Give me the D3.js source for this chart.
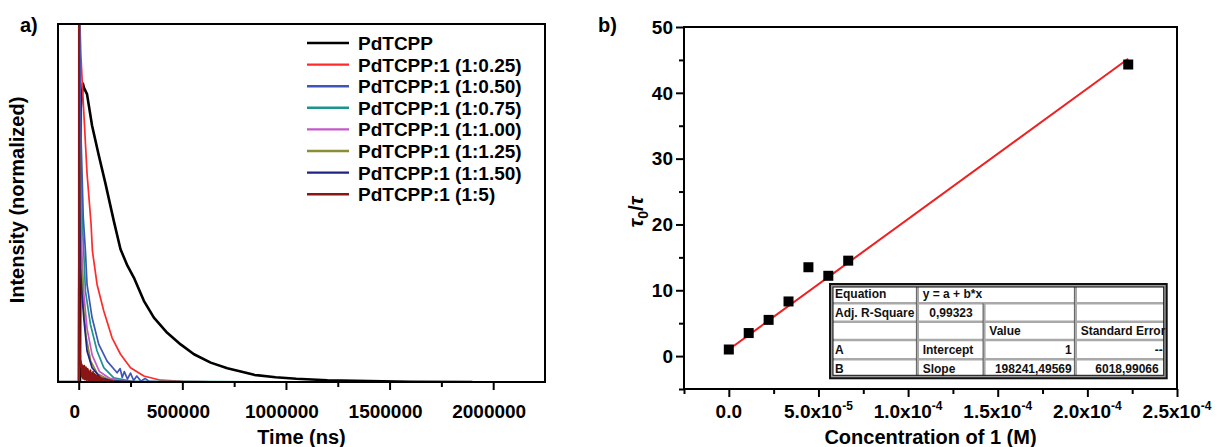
<!DOCTYPE html>
<html>
<head>
<meta charset="utf-8">
<script src="https://cdn.jsdelivr.net/npm/d3@7"></script>
<style>
body { margin: 0; background: #fff; }
svg { display: block; font-family: "Liberation Sans", Arial, sans-serif; }
</style>
</head>
<body>
<div id="chart"></div>
<script>
// ---- panel a data: decay curves, [time ns, intensity] ----
const seriesNames = ["PdTCPP", "PdTCPP:1 (1:0.25)", "PdTCPP:1 (1:0.50)", "PdTCPP:1 (1:0.75)",
    "PdTCPP:1 (1:1.00)", "PdTCPP:1 (1:1.25)", "PdTCPP:1 (1:1.50)", "PdTCPP:1 (1:5)"];
const seriesColors = ["#000000", "#ff2a2a", "#3d56b8", "#1b9490", "#c558c8", "#8c8c32", "#1e2384", "#8a1515"];

const pdtcpp = [[-100000,0],[0,0],[6000,0],[10000,0.92],[20000,1.0],[26000,0.985],[40000,0.965],[64300,0.86],
    [96700,0.76],[129100,0.665],[169200,0.54],[201600,0.445],[235000,0.39],[266000,0.35],[314300,0.272],
    [362700,0.216],[427000,0.165],[491800,0.126],[556100,0.093],[636800,0.065],[717100,0.046],[781900,0.035],
    [846200,0.024],[950000,0.016],[1050000,0.011],[1200000,0.006],[1400000,0.003],[1600000,0.001],[1900000,0]];
const r025 = [[-20000,0],[0,0],[2000,1.3],[10000,1.1],[21000,0.95],[40000,0.7],[59500,0.53],[66000,0.44],
    [88500,0.327],[120900,0.238],[161000,0.148],[201600,0.093],[250000,0.048],[314300,0.02],[395000,0.006],
    [500000,0.002],[700000,0],[1900000,0]];
const r050 = [[-20000,0],[0,0],[2000,1.3],[12000,0.8],[22000,0.55],[32400,0.439],[40100,0.327],[64300,0.216],
    [96700,0.126],[136900,0.07],[185200,0.031],[200000,0.045],[210000,0.015],[220000,0.035],[235000,0.01],
    [250000,0.03],[265000,0.005],[280000,0.02],[300000,0.003],[320000,0.012],[340000,0.002],[403000,0]];
const r075 = [[-100000,0],[0,0],[2000,1.3],[10000,0.7],[18000,0.52],[24200,0.439],[32400,0.305],[56600,0.193],
    [88500,0.104],[120900,0.048],[169200,0.014],[250000,0.003],[905000,0]];
const r100 = [[-20000,0],[0,0],[2000,1.3],[9000,0.6],[16000,0.42],[24000,0.3],[40000,0.18],[65000,0.09],
    [100000,0.035],[150000,0.012],[220000,0.003],[300000,0],[808000,0]];
const r125 = [[-20000,0],[0,0],[2000,1.3],[8000,0.55],[14000,0.38],[22000,0.26],[36000,0.15],[58000,0.07],
    [90000,0.028],[140000,0.01],[200000,0.002],[350000,0]];
const r150 = [[-20000,0],[0,0],[2000,1.3],[5000,0.6],[8200,0.383],[16000,0.29],[24200,0.216],[40100,0.104],
    [64300,0.048],[104900,0.014],[160000,0.004],[300000,0]];
const r5 = [[-5000,0],[0,0],[500,1.5],[3000,0.5],[5000,0.2],[7000,0.09],[9000,0.05],[11000,0.07],[13000,0.02],
    [15000,0.06],[17000,0.015],[19000,0.055],[21000,0.01],[23000,0.05],[25000,0.012],[27000,0.055],[29000,0.008],
    [31000,0.045],[33000,0.01],[35000,0.05],[37000,0.006],[39000,0.04],[41000,0.008],[43000,0.045],[45000,0.005],
    [47000,0.04],[49000,0.006],[51000,0.035],[54000,0.004],[57000,0.04],[60000,0.005],[63000,0.03],[66000,0.004],
    [69000,0.035],[72000,0.003],[75000,0.028],[78000,0.003],[81000,0.025],[85000,0.002],[89000,0.022],
    [93000,0.002],[97000,0.02],[101000,0.002],[106000,0.016],[111000,0.001],[116000,0.012],[122000,0.001],
    [128000,0.01],[135000,0],[142000,0.008],[150000,0],[160000,0.005],[170000,0],[193000,0]];
const seriesData = [pdtcpp, r025, r050, r075, r100, r125, r150, r5];

const timeMajor = [0, 500000, 1000000, 1500000, 2000000];
const timeMinor = [250000, 750000, 1250000, 1750000];

// ---- panel b data ----
const conc = [0, 1.11e-5, 2.22e-5, 3.33e-5, 4.44e-5, 5.55e-5, 6.66e-5, 2.228e-4];
const tauRatio = [1.0, 3.5, 5.5, 8.3, 13.5, 12.2, 14.5, 44.3];
const fitIntercept = 1;
const fitSlope = 198241.49569;

const concMajor = [0, 5e-5, 1e-4, 1.5e-4, 2e-4, 2.5e-4];
const concMinor = [-2.5e-5, 2.5e-5, 7.5e-5, 1.25e-4, 1.75e-4, 2.25e-4];
const concMantissa = ["0.0", "5.0", "1.0", "1.5", "2.0", "2.5"];
const concExponent = ["", "-5", "-4", "-4", "-4", "-4"];
const ratioMajor = [0, 10, 20, 30, 40, 50];
const ratioMinor = [-5, 5, 15, 25, 35, 45];

const tableCells = [
    ["Equation", "y = a + b*x", "", ""],
    ["Adj. R-Square", "0,99323", "", ""],
    ["", "", "Value", "Standard Error"],
    ["A", "Intercept", "1", "--"],
    ["B", "Slope", "198241,49569", "6018,99066"]
];

const W = 1218, H = 447;
const svg = d3.select("#chart").append("svg")
    .attr("width", W).attr("height", H);

function styleAxis(g) {
    g.select(".domain").remove();
    g.selectAll(".tick line").attr("stroke", "#000").attr("stroke-width", 2);
}

// ================= panel a =================
const A = {left: 58, right: 545, top: 24, bottom: 382};
const xa = d3.scaleLinear().domain([-100000, 2250000]).range([A.left, A.right]);
const ya = d3.scaleLinear().domain([0, 1.2]).range([A.bottom, A.top]);

svg.append("clipPath").attr("id", "clipA").append("rect")
    .attr("x", A.left).attr("y", A.top)
    .attr("width", A.right - A.left).attr("height", A.bottom - A.top);

const lineA = d3.line().x(d => xa(d[0])).y(d => ya(d[1]));
const drawOrder = [0, 1, 3, 4, 5, 6, 2, 7];
const curves = svg.append("g").attr("clip-path", "url(#clipA)");
drawOrder.forEach(i => {
    curves.append("path")
        .attr("d", lineA(seriesData[i]))
        .attr("fill", "none")
        .attr("stroke", seriesColors[i])
        .attr("stroke-width", i === 0 ? 2.6 : 1.7)
        .attr("stroke-linejoin", "round");
});

svg.append("g").attr("transform", `translate(0,${A.bottom})`)
    .call(d3.axisBottom(xa).tickValues(timeMajor).tickSize(8).tickFormat(""))
    .call(styleAxis);
svg.append("g").attr("transform", `translate(0,${A.bottom})`)
    .call(d3.axisBottom(xa).tickValues(timeMinor).tickSize(5).tickFormat(""))
    .call(styleAxis);

svg.append("g").selectAll("text").data(timeMajor).join("text")
    .attr("x", d => xa(d) - 4).attr("y", 418)
    .attr("text-anchor", "middle")
    .attr("font-size", 19).attr("font-weight", "bold")
    .text(d => d3.format("d")(d));

svg.append("rect")
    .attr("x", A.left).attr("y", A.top)
    .attr("width", A.right - A.left).attr("height", A.bottom - A.top)
    .attr("fill", "none").attr("stroke", "#000").attr("stroke-width", 2);

svg.append("text").attr("x", (A.left + A.right) / 2).attr("y", 444)
    .attr("text-anchor", "middle").attr("font-size", 20).attr("font-weight", "bold")
    .text("Time (ns)");
svg.append("text").attr("transform", "translate(24,200) rotate(-90)")
    .attr("text-anchor", "middle").attr("font-size", 20).attr("font-weight", "bold")
    .text("Intensity (normalized)");
svg.append("text").attr("x", 20).attr("y", 32)
    .attr("font-size", 20).attr("font-weight", "bold").text("a)");

// legend
const legend = svg.append("g");
seriesNames.forEach((name, i) => {
    const yy = 43 + i * 21.6;
    legend.append("line").attr("x1", 307).attr("x2", 349).attr("y1", yy).attr("y2", yy)
        .attr("stroke", seriesColors[i]).attr("stroke-width", 2.4);
    legend.append("text").attr("x", 358).attr("y", yy + 7)
        .attr("font-size", 19).attr("font-weight", "bold").text(name);
});

// ================= panel b =================
const B = {left: 684, right: 1177, top: 27, bottom: 389};
const xb = d3.scaleLinear().domain([-2.5e-5, 2.5e-4]).range([B.left, B.right]);
const yb = d3.scaleLinear().domain([-5, 50]).range([B.bottom, B.top]);

svg.append("g").attr("transform", `translate(0,${B.bottom})`)
    .call(d3.axisBottom(xb).tickValues(concMajor).tickSize(8).tickFormat(""))
    .call(styleAxis);
svg.append("g").attr("transform", `translate(0,${B.bottom})`)
    .call(d3.axisBottom(xb).tickValues(concMinor).tickSize(5).tickFormat(""))
    .call(styleAxis);
svg.append("g").attr("transform", `translate(${B.left},0)`)
    .call(d3.axisLeft(yb).tickValues(ratioMajor).tickSize(8).tickFormat(""))
    .call(styleAxis);
svg.append("g").attr("transform", `translate(${B.left},0)`)
    .call(d3.axisLeft(yb).tickValues(ratioMinor).tickSize(5).tickFormat(""))
    .call(styleAxis);

svg.append("g").selectAll("text").data(ratioMajor).join("text")
    .attr("x", B.left - 11).attr("y", d => yb(d)).attr("dy", "0.36em")
    .attr("text-anchor", "end").attr("font-size", 19).attr("font-weight", "bold")
    .text(d => d);

const xlab = svg.append("g").selectAll("text").data(concMajor).join("text")
    .attr("x", d => xb(d)).attr("y", 418)
    .attr("text-anchor", "middle").attr("font-size", 19).attr("font-weight", "bold");
xlab.each(function(d, i) {
    const t = d3.select(this);
    if (!concExponent[i]) { t.text(concMantissa[i]); return; }
    t.append("tspan").text(concMantissa[i] + "x10");
    t.append("tspan").attr("dy", -8).attr("font-size", 12).text(concExponent[i]);
});

// table
const colX = [830, 917.7, 984.3, 1075.7, 1166.7];
const rowY = [284, 303.3, 321.7, 340, 359.3, 378.3];
const table = svg.append("g").attr("font-size", 12).attr("font-weight", "bold").attr("fill", "#111");
table.append("rect").attr("x", colX[0]).attr("y", rowY[0])
    .attr("width", colX[4] - colX[0]).attr("height", rowY[5] - rowY[0])
    .attr("fill", "#fff");
for (let r = 1; r < 5; r++) {
    table.append("line").attr("x1", colX[0]).attr("x2", colX[4]).attr("y1", rowY[r]).attr("y2", rowY[r])
        .attr("stroke", "#a9a9a9").attr("stroke-width", 2.6);
}
[1, 3].forEach(c => table.append("line").attr("x1", colX[c]).attr("x2", colX[c])
    .attr("y1", rowY[0]).attr("y2", rowY[5]).attr("stroke", "#a9a9a9").attr("stroke-width", 2.6));
table.append("line").attr("x1", colX[2]).attr("x2", colX[2])
    .attr("y1", rowY[1]).attr("y2", rowY[5]).attr("stroke", "#a9a9a9").attr("stroke-width", 2.6);
[1, 3].forEach(c => table.append("line").attr("x1", colX[c] - 1.3).attr("x2", colX[c] - 1.3)
    .attr("y1", rowY[0]).attr("y2", rowY[5]).attr("stroke", "#444").attr("stroke-width", 0.8));
table.append("line").attr("x1", colX[2] - 1.3).attr("x2", colX[2] - 1.3)
    .attr("y1", rowY[1]).attr("y2", rowY[5]).attr("stroke", "#444").attr("stroke-width", 0.8);
table.append("rect").attr("x", colX[0] + 1.5).attr("y", rowY[0] + 1.5)
    .attr("width", colX[4] - colX[0] - 3).attr("height", rowY[5] - rowY[0] - 3)
    .attr("fill", "none").attr("stroke", "#9a9a9a").attr("stroke-width", 3);
table.append("rect").attr("x", colX[0]).attr("y", rowY[0])
    .attr("width", colX[4] - colX[0]).attr("height", rowY[5] - rowY[0])
    .attr("fill", "none").attr("stroke", "#111").attr("stroke-width", 2);
table.append("rect").attr("x", colX[0] + 3).attr("y", rowY[0] + 3)
    .attr("width", colX[4] - colX[0] - 6).attr("height", rowY[5] - rowY[0] - 6)
    .attr("fill", "none").attr("stroke", "#111").attr("stroke-width", 1);

// alignment of each cell: l = left, c = centre, r = right
const cellAlign = [["l", "l", "l", "l"], ["l", "c", "l", "l"], ["l", "l", "l", "l"],
    ["l", "l", "r", "r"], ["l", "l", "r", "r"]];
tableCells.forEach((row, r) => {
    row.forEach((txt, c) => {
        if (!txt) return;
        const al = cellAlign[r][c];
        let x = colX[c] + 5, anchor = "start";
        if (al === "c") { x = (colX[c] + colX[c + 1]) / 2; anchor = "middle"; }
        if (al === "r") { x = colX[c + 1] - (c === 3 && r === 4 ? 8 : 4); anchor = "end"; }
        table.append("text").attr("x", x).attr("y", (rowY[r] + rowY[r + 1]) / 2 + 4.5)
            .attr("text-anchor", anchor).text(txt);
    });
});

// fit line and points
const xEnd = d3.max(conc);
svg.append("line")
    .attr("x1", xb(0)).attr("y1", yb(fitIntercept))
    .attr("x2", xb(xEnd)).attr("y2", yb(fitIntercept + fitSlope * xEnd))
    .attr("stroke", "#ee2020").attr("stroke-width", 2);

svg.append("g").selectAll("rect").data(conc).join("rect")
    .attr("x", d => xb(d) - 5)
    .attr("y", (d, i) => yb(tauRatio[i]) - 5)
    .attr("width", 10).attr("height", 10).attr("fill", "#000");

svg.append("rect")
    .attr("x", B.left).attr("y", B.top)
    .attr("width", B.right - B.left).attr("height", B.bottom - B.top)
    .attr("fill", "none").attr("stroke", "#000").attr("stroke-width", 2);

svg.append("text").attr("x", (B.left + B.right) / 2).attr("y", 444)
    .attr("text-anchor", "middle").attr("font-size", 20).attr("font-weight", "bold")
    .text("Concentration of 1 (M)");

const ytitle = svg.append("text").attr("transform", "translate(643,212) rotate(-90)")
    .attr("text-anchor", "middle").attr("font-size", 21).attr("font-weight", "bold");
ytitle.append("tspan").attr("font-style", "italic").text("τ");
ytitle.append("tspan").attr("font-size", 14).attr("dy", 5).text("0");
ytitle.append("tspan").attr("dy", -5).text("/");
ytitle.append("tspan").attr("font-style", "italic").text("τ");

svg.append("text").attr("x", 598).attr("y", 32)
    .attr("font-size", 20).attr("font-weight", "bold").text("b)");
</script>
</body>
</html>
